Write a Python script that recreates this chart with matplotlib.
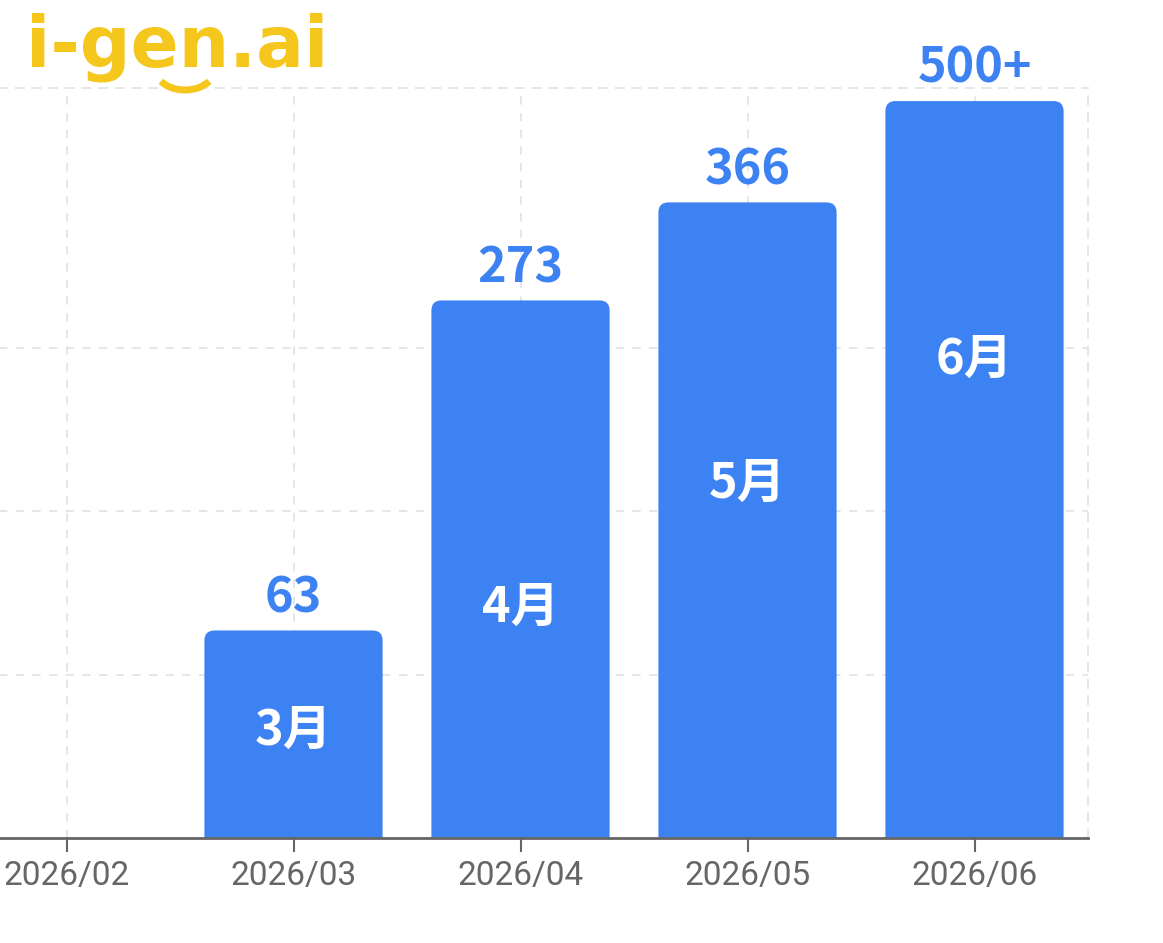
import matplotlib
matplotlib.use('Agg')
import matplotlib.pyplot as plt
from matplotlib.patches import FancyBboxPatch, Arc

# dados (altura das barras na escala em que cada linha de grade = 100)
meses = ['2026/02', '2026/03', '2026/04', '2026/05', '2026/06']
alturas = [0, 127, 329, 389, 451]
rotulos_valor = ['', '63', '273', '366', '500+']
rotulos_mes = ['', '3月', '4月', '5月', '6月']
altura_rotulo_mes = [0, 66, 141, 217, 293]

azul = '#3D82F2'
cinza = '#666666'
grade = '#e2e2e2'
amarelo = '#F5C61C'

fig = plt.figure(figsize=(11.63, 9.43), dpi=100)
ax = fig.add_axes([-47 / 1163, 105 / 943, 1135 / 1163, 750 / 943])

x = list(range(len(meses)))
barras = ax.bar(x, alturas, width=0.785, color=azul, zorder=2)

# troca as barras por versões com cantos superiores arredondados
rx = 0.044
ry = 6.1
for b in barras:
    b.set_visible(False)
    if b.get_height() <= 0:
        continue
    p = FancyBboxPatch((b.get_x(), -ry * 2), b.get_width(), b.get_height() + ry * 2,
                       boxstyle=f'round,pad=0,rounding_size={rx}',
                       mutation_aspect=ry / rx, facecolor=azul, edgecolor='none',
                       zorder=2, clip_on=True)
    ax.add_patch(p)

fonte_cjk = ['Noto Sans CJK SC', 'DejaVu Sans']
for xi, h, txt, mes, hm in zip(x, alturas, rotulos_valor, rotulos_mes, altura_rotulo_mes):
    if not txt:
        continue
    ax.annotate(txt, (xi, h), xytext=(0, 23.5), textcoords='offset points',
                ha='center', va='center', fontsize=35, fontweight='bold',
                color=azul, family=fonte_cjk, zorder=3)
    ax.text(xi, hm, mes, ha='center', va='center', fontsize=35, fontweight='bold',
            color='white', family=fonte_cjk, zorder=3)

ax.set_xlim(-0.5, len(meses) - 0.5)
ax.set_ylim(0, 459)
ax.set_xticks(x)
ax.set_xticklabels(meses, fontsize=24, color=cinza, family=['Roboto', 'DejaVu Sans'])
ax.set_yticks([0, 100, 200, 300])
ax.set_yticklabels([])
ax.tick_params(axis='y', length=0)
ax.tick_params(axis='x', length=10, width=1.5, color=cinza, pad=6)

ax.grid(True, linestyle=(0, (5, 5)), color=grade, linewidth=1.2, zorder=0)
ax.set_axisbelow(True)

for lado in ['top', 'right']:
    ax.spines[lado].set_linestyle((0, (5, 5)))
    ax.spines[lado].set_color(grade)
    ax.spines[lado].set_linewidth(1.2)
ax.spines['left'].set_visible(False)
ax.spines['bottom'].set_color(cinza)
ax.spines['bottom'].set_linewidth(2)
ax.spines['bottom'].set_zorder(4)

# logo
fig.text(26 / 1163, 1 - 67 / 943, 'i-gen.ai', fontsize=51, fontweight='bold',
         color=amarelo, family='DejaVu Sans', ha='left', va='baseline')
sorriso = Arc((185, 943 - 70), 58, 40, theta1=205, theta2=335, color=amarelo,
              linewidth=5, transform=None)
fig.add_artist(sorriso)

fig.savefig('out.png', dpi=100)
